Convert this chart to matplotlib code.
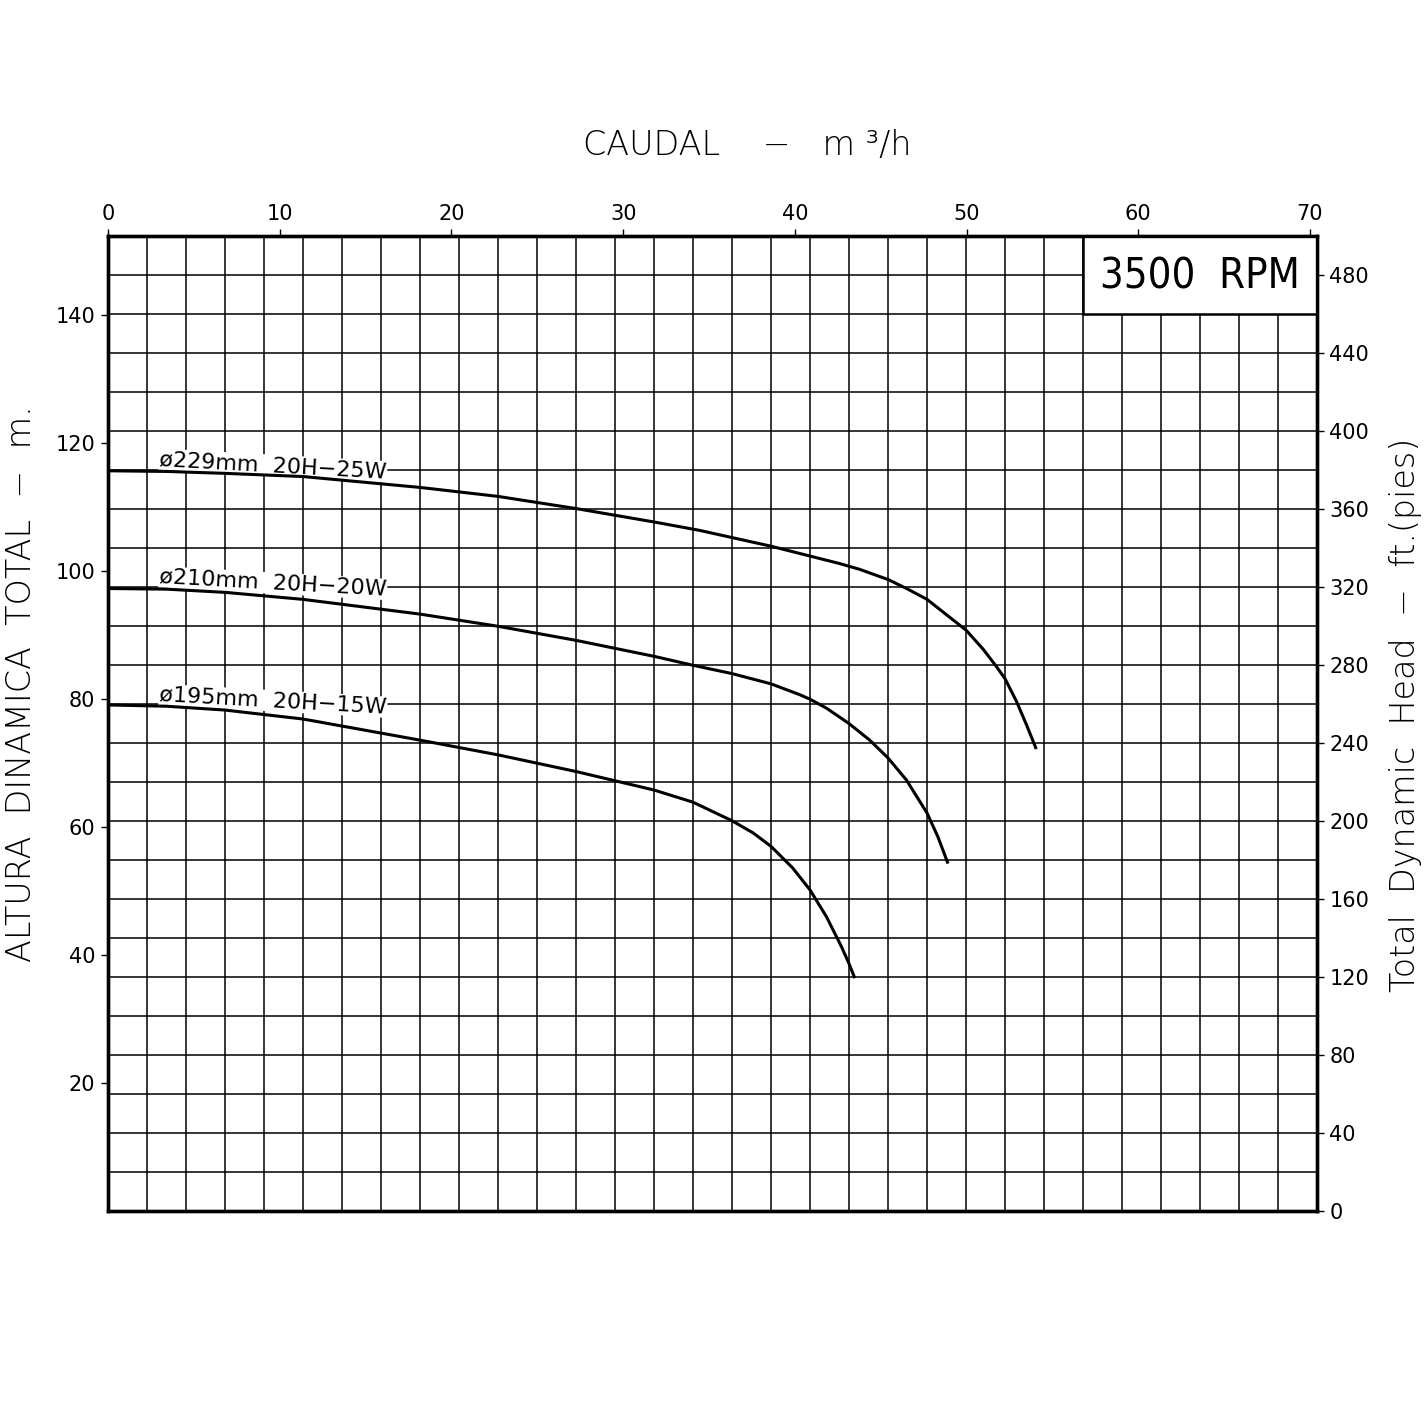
import matplotlib
matplotlib.use("Agg")
import matplotlib.pyplot as plt
from matplotlib.ticker import MultipleLocator
from matplotlib.patches import Rectangle

plt.rcParams['font.family'] = ['DejaVu Sans']

# flow in m3/h, head in m
q_229 = [0, 3.4, 6.81, 11.36, 18.17, 22.71, 27.25, 31.80, 34.43, 38.63, 42.61, 43.77, 45.43,
         46.58, 47.70, 48.83, 49.97, 50.97, 51.74, 52.24, 52.90, 53.49, 54.06]
h_229 = [115.7, 115.6, 115.3, 114.8, 113.1, 111.7, 109.8, 107.7, 106.4, 103.9, 101.2, 100.3, 98.7,
         97.2, 95.6, 93.2, 90.8, 87.8, 85.1, 83.2, 79.7, 76.0, 72.2]

q_210 = [0, 3.4, 6.81, 11.36, 18.17, 22.71, 27.25, 31.80, 34.07, 36.34, 38.61, 40.29, 40.88,
         41.84, 43.15, 44.36, 45.43, 46.49, 47.70, 48.33, 48.92]
h_210 = [97.3, 97.2, 96.7, 95.6, 93.3, 91.4, 89.2, 86.7, 85.3, 84.0, 82.4, 80.7, 80.0,
         78.6, 76.2, 73.6, 70.8, 67.4, 62.2, 58.5, 54.3]

q_195 = [0, 3.4, 6.81, 11.36, 18.17, 22.71, 27.25, 31.80, 34.07, 36.34, 37.57, 38.61, 39.88,
         40.88, 41.84, 42.70, 43.15, 43.49]
h_195 = [79.1, 78.9, 78.3, 76.9, 73.6, 71.3, 68.7, 65.8, 63.9, 61.0, 59.1, 57.0, 53.6,
         50.2, 46.0, 41.4, 38.7, 36.4]

curve_labels = ["ø229mm  20H−25W", "ø210mm  20H−20W", "ø195mm  20H−15W"]
label_pos = [(2.97, 116.6), (2.97, 98.2), (2.97, 79.8)]

GPM = 0.227125   # m3/h per US gpm
FT = 0.3048      # m per ft

fig = plt.figure(figsize=(14.26, 14.26), dpi=100)
ax = fig.add_axes([108 / 1426, 1 - 1211 / 1426, 1209 / 1426, 975 / 1426])

ax.set_xlim(0, 310 * GPM)
ax.set_ylim(0, 500 * FT)

# grid every 10 gpm / 20 ft
ax.xaxis.set_minor_locator(MultipleLocator(10 * GPM))
ax.yaxis.set_minor_locator(MultipleLocator(20 * FT))
ax.grid(which='minor', color='black', lw=1.1)
ax.grid(which='major', visible=False)
ax.tick_params(which='minor', length=0)

ax.set_xticks(range(0, 71, 10))
ax.set_yticks(range(20, 141, 20))
ax.xaxis.tick_top()
ax.tick_params(axis='both', which='major', direction='out', length=5, width=1,
               labelsize=15, pad=4)

for s in ax.spines.values():
    s.set_linewidth(2.4)

for q, h in [(q_229, h_229), (q_210, h_210), (q_195, h_195)]:
    ax.plot(q, h, color='black', lw=2.2, zorder=2, solid_capstyle='butt',
            solid_joinstyle='round')

for txt, (x, y) in zip(curve_labels, label_pos):
    ax.text(x, y, txt, fontsize=16, rotation=-3.2, rotation_mode='anchor',
            ha='left', va='baseline', zorder=1.8,
            bbox=dict(facecolor='white', edgecolor='none', pad=0.5))

# RPM box
box = Rectangle((250 * GPM, 460 * FT), 60 * GPM, 40 * FT, facecolor='white',
                edgecolor='black', lw=1.8, zorder=4, clip_on=False)
ax.add_patch(box)
ax.text(280 * GPM, 479 * FT, "3500  RPM", fontsize=30, ha='center', va='center',
        zorder=5, fontstretch='condensed', fontweight='light')

ax2 = ax.twinx()
ax2.set_ylim(0, 500)
ax2.set_yticks(range(0, 481, 40))
ax2.tick_params(axis='y', direction='out', length=5, width=1, labelsize=15, pad=4)
for s in ax2.spines.values():
    s.set_linewidth(2.4)

fig.text(747 / 1426, 1 - 146 / 1426, "CAUDAL    −   m ³/h", fontsize=24,
         ha='center', va='center', fontweight='light')
fig.text(22 / 1426, 1 - 684 / 1426, "ALTURA  DINAMICA  TOTAL  −  m.", fontsize=24,
         rotation=90, ha='center', va='center', fontweight='light')
fig.text(1405 / 1426, 1 - 715 / 1426, "Total  Dynamic  Head  −  ft.(pies)", fontsize=24,
         rotation=90, ha='center', va='center', fontweight='light')

fig.savefig("out.png", dpi=100, facecolor='white')
